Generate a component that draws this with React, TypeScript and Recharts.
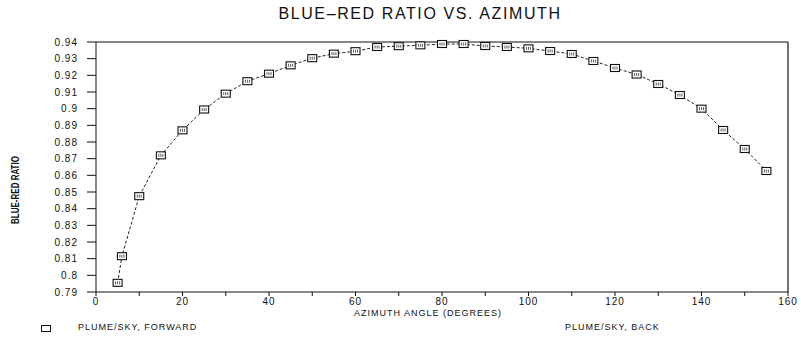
import React from "react";
import {
  LineChart,
  Line,
  XAxis,
  YAxis,
  ReferenceLine,
} from "recharts";

// azimuth angle (degrees) and blue-red ratio
const azimuth = [
  5, 6, 10, 15, 20, 25, 30, 35, 40, 45, 50, 55, 60, 65, 70, 75, 80, 85, 90,
  95, 100, 105, 110, 115, 120, 125, 130, 135, 140, 145, 150, 155,
];
const forwardRatio = [
  0.7955, 0.8115, 0.8475, 0.872, 0.887, 0.8995, 0.909, 0.9165, 0.921, 0.926,
  0.9303, 0.933, 0.9345, 0.937, 0.9375, 0.938, 0.9388, 0.9388, 0.9376, 0.937,
  0.9362, 0.9346, 0.9328, 0.9286, 0.9244, 0.9205, 0.9148, 0.9082, 0.9,
  0.8872, 0.8758, 0.8626,
];

const xTicks = [0, 10, 20, 30, 40, 50, 60, 70, 80, 90, 100, 110, 120, 130, 140, 150, 160];
const yTicks = [
  0.79, 0.8, 0.81, 0.82, 0.83, 0.84, 0.85, 0.86, 0.87, 0.88, 0.89, 0.9, 0.91,
  0.92, 0.93, 0.94,
];

const data = azimuth.map((a, i) => ({ azimuth: a, forward: forwardRatio[i] }));

const font = "'Liberation Sans', 'DejaVu Sans', sans-serif";

const SquareDot = (props: any) => {
  const { cx, cy, index } = props;
  if (cx == null || cy == null) return null;
  return (
    <g key={`dot-${index}`}>
      <rect x={cx - 4.5} y={cy - 3.5} width={9} height={7} fill="#fff" stroke="#111" strokeWidth={1.1} />
      <path d={`M${cx - 2},${cy - 1.5} v3 M${cx},${cy - 1.5} v3 M${cx + 2},${cy - 1.5} v3`} stroke="#333" strokeWidth={0.8} />
    </g>
  );
};

export default function App() {
  return (
    <div
      style={{
        position: "absolute",
        left: 0,
        top: 0,
        width: 801,
        height: 338,
        background: "#fff",
        fontFamily: font,
        color: "#111",
      }}
    >
      <div
        style={{
          position: "absolute",
          left: 0,
          width: 840,
          top: 5,
          textAlign: "center",
          fontSize: 16,
          letterSpacing: 1.6,
          fontWeight: 300,
        }}
      >
        BLUE–RED RATIO VS. AZIMUTH
      </div>

      <div
        style={{
          position: "absolute",
          left: 9,
          top: 190,
          transform: "translate(-50%, -50%) rotate(-90deg) scaleX(0.8)",
          transformOrigin: "center",
          fontSize: 10,
          fontWeight: 700,
          whiteSpace: "nowrap",
          marginLeft: 6,
        }}
      >
        BLUE-RED RATIO
      </div>

      <LineChart
        width={801}
        height={338}
        data={data}
        margin={{ top: 42, right: 13, bottom: 0, left: 0 }}
      >
        <XAxis
          dataKey="azimuth"
          type="number"
          domain={[0, 160]}
          ticks={xTicks}
          interval={0}
          tickFormatter={(v: number) => (v % 20 === 0 ? String(v) : "")}
          tickSize={4}
          tickMargin={2}
          height={46}
          stroke="#111"
          tick={{ fontSize: 10, fill: "#111", fontFamily: font, letterSpacing: 1 }}
        />
        <YAxis
          type="number"
          domain={[0.79, 0.94]}
          ticks={yTicks}
          interval={0}
          width={96}
          tickSize={9}
          tickMargin={9}
          stroke="#111"
          tickFormatter={(v: number) => String(Math.round(v * 100) / 100)}
          tick={{ fontSize: 10, fill: "#111", fontFamily: font, letterSpacing: 1 }}
        />
        <ReferenceLine y={0.94} stroke="#111" strokeWidth={1.2} />
        <ReferenceLine x={160} stroke="#111" strokeWidth={1.2} />
        <Line
          dataKey="forward"
          name="PLUME/SKY, FORWARD"
          stroke="#222"
          strokeWidth={1}
          strokeDasharray="3 2"
          dot={<SquareDot />}
          activeDot={false}
          isAnimationActive={false}
        />
      </LineChart>

      <div
        style={{
          position: "absolute",
          left: 0,
          width: 856,
          top: 308,
          textAlign: "center",
          fontSize: 9,
          letterSpacing: 1,
        }}
      >
        AZIMUTH ANGLE (DEGREES)
      </div>

      <div
        style={{
          position: "absolute",
          left: 41,
          top: 325,
          width: 8,
          height: 5,
          border: "1.5px solid #111",
        }}
      />
      <div style={{ position: "absolute", left: 78, top: 322, fontSize: 9, letterSpacing: 1 }}>
        PLUME/SKY, FORWARD
      </div>
      <div style={{ position: "absolute", left: 565, top: 322, fontSize: 9, letterSpacing: 1 }}>
        PLUME/SKY, BACK
      </div>
    </div>
  );
}
